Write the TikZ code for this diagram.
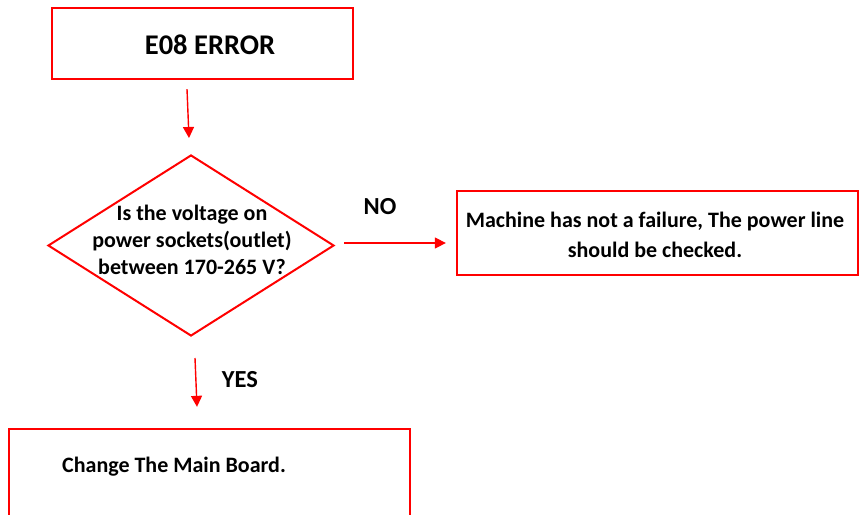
\documentclass[tikz,border=0pt]{standalone}
\usepackage{fontspec}
\setmainfont{Carlito}
\usetikzlibrary{arrows.meta,shapes.geometric}
\begin{document}
\begin{tikzpicture}[x=1pt,y=-1pt,
  box/.style={draw=red,line width=2.3pt,rectangle,inner sep=0pt},
  txt/.style={font=\fontsize{22}{27}\selectfont\bfseries,align=center,inner sep=0pt},
  lbl/.style={font=\fontsize{24.5}{28}\selectfont\bfseries,inner sep=0pt},
  arr/.style={draw=red,line width=1.4pt,-{Triangle[length=11pt,width=11pt]}}
]
\useasboundingbox (0,0) rectangle (861,514);
\node[box,minimum width=301pt,minimum height=71pt] (e08) at (202.5,43.5) {};
\node[txt,font=\fontsize{28.5}{34}\selectfont\bfseries] (t1) at (210,45) {E08 ERROR};
\node[draw=red,line width=2pt,diamond,minimum width=286pt,minimum height=181pt,inner sep=0pt] (q) at (191,245.5) {};
\node[txt] (t2) at (192,240) {Is the voltage on\\power sockets(outlet)\\between 170-265 V?};
\node[box,minimum width=401pt,minimum height=84pt] (fail) at (657.5,233) {};
\node[txt,font=\fontsize{22}{30}\selectfont\bfseries] (t3) at (655,235) {Machine has not a failure, The power line\\should be checked.};
\node[box,minimum width=401pt,minimum height=89pt] (board) at (209.5,473.5) {};
\node[txt,anchor=west] (t4) at (62,467) {Change The Main Board.};
\node[lbl] (no) at (380,207) {NO};
\node[lbl] (yes) at (240,380) {YES};
\draw[arr] ([xshift=-15.5pt,yshift=-9pt]e08.south) -- ([xshift=-2pt,yshift=16pt]q.north);
\draw[arr] ([xshift=4pt,yshift=-21pt]q.south) -- ([xshift=-12.5pt,yshift=21pt]board.north);
\draw[arr] ([xshift=9pt,yshift=2.5pt]q.east) -- ([xshift=-10pt,yshift=-10pt]fail.west);
\end{tikzpicture}
\end{document}
